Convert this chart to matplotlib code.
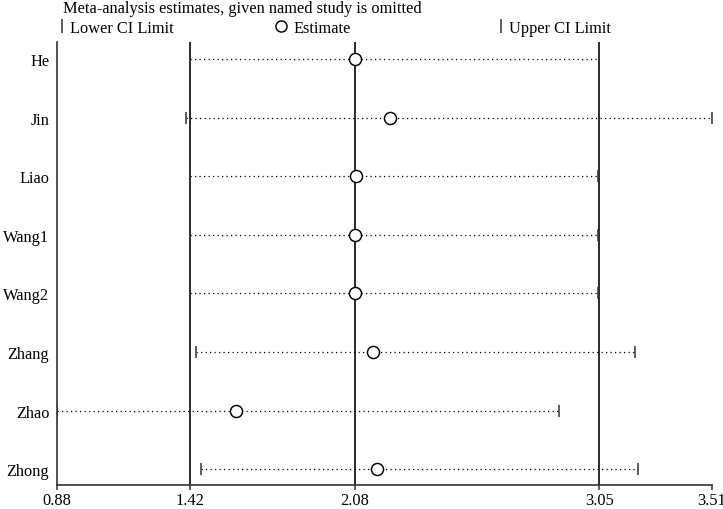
import matplotlib
matplotlib.use("Agg")
import matplotlib.pyplot as plt
from matplotlib.lines import Line2D

plt.rcParams['font.family'] = ['Liberation Serif', 'DejaVu Serif']

studies = ["He", "Jin", "Liao", "Wang1", "Wang2", "Zhang", "Zhao", "Zhong"]
estimate = [2.077, 2.217, 2.081, 2.077, 2.079, 2.150, 1.599, 2.166]
lower = [1.414, 1.397, 1.413, 1.413, 1.413, 1.438, 0.880, 1.460]
upper = [3.056, 3.510, 3.055, 3.055, 3.055, 3.202, 2.896, 3.213]

overall = [1.415, 2.077, 3.058]          # overall lower CI, estimate, upper CI
xtick_values = [0.88, 1.415, 2.077, 3.058, 3.51]
xtick_labels = ["0.88", "1.42", "2.08", "3.05", "3.51"]

FS = 11.8

fig = plt.figure(figsize=(7.23, 5.10), dpi=100)
ax = fig.add_axes([57/723, 1-486/510, (711.5-57)/723, (486-43)/510])

ypos = list(range(len(studies)))

for v in overall:
    ax.axvline(v, color="#111111", lw=1.25, zorder=1)

for y, lo, est, hi in zip(ypos, lower, estimate, upper):
    ax.plot([lo, hi], [y, y], color="black", lw=0.9,
            linestyle=(0, (1, 2.6)), zorder=2)
ax.plot(lower, ypos, linestyle="none", marker="|", color="#333333",
        markersize=8, markeredgewidth=1.1, zorder=3)
ax.plot(upper, ypos, linestyle="none", marker="|", color="#333333",
        markersize=8, markeredgewidth=1.1, zorder=3)
ax.plot(estimate, ypos, linestyle="none", marker="o", markerfacecolor="white",
        markeredgecolor="black", markersize=8.7, markeredgewidth=1.05, zorder=4)

ax.set_xlim(0.88, 3.51)
ax.set_ylim(7.27, -0.29)
ax.set_xticks(xtick_values)
ax.set_xticklabels(xtick_labels, fontsize=FS)
ax.set_yticks(ypos)
ax.set_yticklabels(studies, fontsize=FS)
ax.tick_params(axis="y", length=0, pad=5.5)
ax.tick_params(axis="x", length=3.5, width=1.1, pad=1.5, color="#333333")

for s in ["top", "right"]:
    ax.spines[s].set_visible(False)
for s in ["left", "bottom"]:
    ax.spines[s].set_color("#333333")
    ax.spines[s].set_linewidth(1.2)

fig.text(63/723, 1-9/510, "Meta-analysis estimates, given named study is omitted",
         fontsize=FS, ha="left", va="center")

h_lower = Line2D([], [], linestyle="none", marker="|", color="#333333",
                 markersize=9.5, markeredgewidth=1.1)
h_est = Line2D([], [], linestyle="none", marker="o", markerfacecolor="none",
               markeredgecolor="black", markersize=8, markeredgewidth=1.05)
h_upper = Line2D([], [], linestyle="none", marker="|", color="#333333",
                 markersize=9.5, markeredgewidth=1.1)

for h, lab, x0, tp in [(h_lower, "Lower CI Limit", 57, 0.2),
                       (h_est, "Estimate", 276, 0.45),
                       (h_upper, "Upper CI Limit", 496, 0.2)]:
    fig.legend([h], [lab], loc="center left", bbox_to_anchor=(x0/723, 1-29/510),
               frameon=False, fontsize=FS, handlelength=0.6, handletextpad=tp,
               borderaxespad=0, borderpad=0)

fig.savefig("out.png", dpi=100)
